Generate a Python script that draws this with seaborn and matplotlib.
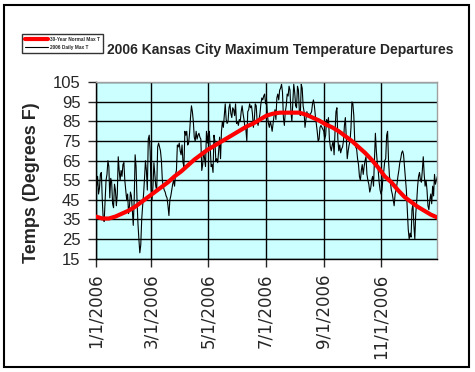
import matplotlib
matplotlib.use("Agg")
import matplotlib.pyplot as plt
from matplotlib.patches import Rectangle
import pandas as pd
import seaborn as sns

# 2006 daily max temperatures (deg F), one list per month
jan = [56, 52, 57, 48, 51, 58, 59, 45, 35, 34, 44, 55, 58, 65, 62, 46, 56, 54, 43, 41,
       53, 50, 42, 48, 67, 60, 55, 60, 57, 63, 64]
feb = [55, 50, 45, 48, 38, 42, 49, 47, 40, 32, 45, 68, 62, 45, 33, 25, 18, 22, 35, 42,
       48, 56, 65, 60, 50, 76, 78, 70]
mar = [50, 45, 52, 64, 58, 52, 50, 72, 74, 72, 70, 65, 55, 52, 50, 49, 47, 46, 42, 37,
       45, 47, 50, 53, 55, 52, 58, 60, 73, 72, 74]
apr = [70, 68, 73, 64, 62, 80, 78, 80, 73, 74, 79, 87, 93, 90, 85, 77, 75, 80, 76, 78,
       79, 77, 76, 60, 63, 70, 66, 62, 80, 74]
may = [79, 80, 72, 62, 63, 59, 78, 75, 65, 66, 64, 70, 77, 66, 80, 85, 82, 88, 94, 86,
       84, 85, 92, 94, 89, 87, 92, 91, 88, 94, 84]
jun = [85, 83, 86, 85, 90, 93, 89, 86, 82, 81, 75, 90, 91, 94, 92, 93, 89, 82, 86, 94,
       93, 85, 83, 86, 89, 94, 97, 96, 98, 99]
jul = [94, 96, 88, 84, 82, 85, 83, 80, 84, 88, 91, 86, 97, 99, 96, 101, 102, 104, 100, 87,
       83, 90, 93, 99, 98, 103, 101, 90, 85, 94, 104]
aug = [100, 93, 92, 103, 101, 90, 88, 104, 102, 93, 90, 82, 86, 90, 88, 89, 88, 89, 90, 94,
       96, 93, 88, 84, 80, 75, 76, 82, 83, 82, 81]
sep = [80, 76, 78, 86, 84, 87, 76, 72, 70, 73, 75, 68, 80, 90, 92, 76, 70, 73, 69, 71,
       72, 75, 83, 87, 76, 66, 70, 73, 75, 82]
oct_ = [95, 94, 88, 75, 72, 71, 66, 63, 57, 55, 60, 63, 58, 62, 65, 67, 58, 55, 53, 49,
        51, 55, 57, 52, 66, 79, 70, 64, 60, 54, 50]
nov = [48, 50, 56, 60, 65, 66, 78, 80, 65, 57, 54, 50, 48, 45, 42, 48, 50, 53, 57, 60,
       64, 66, 69, 70, 68, 62, 56, 50, 40, 30]
dec = [25, 28, 26, 40, 43, 32, 25, 38, 44, 52, 57, 59, 55, 54, 60, 67, 58, 52, 55, 50,
       42, 40, 45, 48, 43, 52, 47, 58, 53, 55, 57]

# 30-year normal max temp, weekly from Jan 1
normal_max = [36.5, 35.5, 35.5, 36.5, 38,
              39.5, 41.5, 44, 46.5,
              49, 51.5, 54, 57,
              59.5, 62.5, 65.5, 68, 70.5,
              72.5, 74.5, 76.5, 78.5,
              80.5, 82.5, 84, 86,
              88, 89, 89.5, 89.5, 89.5,
              89.5, 88.5, 87, 85.5,
              83.5, 82, 80, 77.5,
              75, 72, 69, 65.5, 61.5,
              57, 54, 50, 46.5,
              44, 41.5, 39.5, 37.5, 36]

tick_dates = ["2006-01-01", "2006-03-01", "2006-05-01", "2006-07-01", "2006-09-01", "2006-11-01"]
tick_labels = ["1/1/2006", "3/1/2006", "5/1/2006", "7/1/2006", "9/1/2006", "11/1/2006"]
y_ticks = [15, 25, 35, 45, 55, 65, 75, 85, 95, 105]

daily = pd.DataFrame({
    "date": pd.date_range("2006-01-01", "2006-12-31", freq="D"),
    "temp": jan + feb + mar + apr + may + jun + jul + aug + sep + oct_ + nov + dec,
})
normal = pd.DataFrame({
    "date": pd.date_range("2006-01-01", "2006-12-31", freq="7D"),
    "temp": normal_max,
})

sns.set_style("white")
plt.rcParams["font.family"] = ["Liberation Sans", "DejaVu Sans"]

fig = plt.figure(figsize=(4.75, 3.72), dpi=100)
ax = fig.add_axes([0.2015, 0.3046, 0.7192, 0.4742])
ax.set_facecolor("#CCFFFF")

sns.lineplot(data=normal, x="date", y="temp", ax=ax, color="#FF0000", linewidth=3,
             label="30-Year Normal Max T", zorder=3)
sns.lineplot(data=daily, x="date", y="temp", ax=ax, color="black", linewidth=0.8,
             label="2006 Daily Max T", zorder=2)

ax.set_xlim(pd.Timestamp("2006-01-01"), pd.Timestamp("2006-12-31"))
ax.set_ylim(15, 105)
ax.set_yticks(y_ticks)
ax.set_xticks(pd.to_datetime(tick_dates))
ax.set_xticklabels(tick_labels, rotation=90, fontsize=12, family="DejaVu Sans")
ax.tick_params(axis="y", labelsize=12, direction="out", length=6, width=1, pad=5, left=True)
ax.tick_params(axis="x", direction="out", length=6, width=1, pad=4.5, bottom=True)

ax.set_axisbelow(True)
ax.grid(True, color="black", linewidth=1)
for side in ["left", "bottom"]:
    ax.spines[side].set_color("black")
    ax.spines[side].set_linewidth(1)
for side in ["top", "right"]:
    ax.spines[side].set_color("#A0A0A0")
    ax.spines[side].set_linewidth(1)

ax.set_xlabel("")
ax.set_ylabel("Temps (Degrees F)", fontsize=13, fontweight="bold")
ax.yaxis.set_label_coords(-0.163, 0.43)

handles, labels = ax.get_legend_handles_labels()
ax.get_legend().remove()
leg = fig.legend(handles, labels, loc="upper left", bbox_to_anchor=(22 / 475, 1 - 34 / 372),
                 fontsize=3.4, handlelength=5, handletextpad=0.3, borderpad=0.6,
                 labelspacing=0.7, frameon=True, fancybox=False, edgecolor="black",
                 borderaxespad=0)
leg.get_frame().set_linewidth(1)
for t in leg.get_texts():
    t.set_fontweight("bold")

fig.text(0.5905, 1 - 50 / 372, "2006 Kansas City Maximum Temperature Departures",
         ha="center", va="center", fontsize=10, fontweight="bold")

fig.patches.append(Rectangle((4 / 475, 5 / 372), 465 / 475, 362 / 372, transform=fig.transFigure,
                             fill=False, edgecolor="black", linewidth=1.5))

fig.savefig("out.png", dpi=100, facecolor="white")
